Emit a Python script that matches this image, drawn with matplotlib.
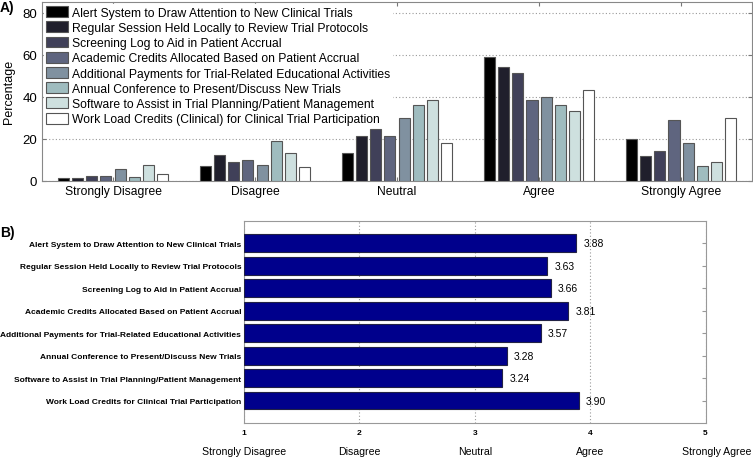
import numpy as np
import matplotlib
matplotlib.use('Agg')
import matplotlib.pyplot as plt

plt.rcParams['font.family'] = ['Liberation Sans', 'DejaVu Sans']

# responses (x groups)
responses = ['Strongly Disagree', 'Disagree', 'Neutral', 'Agree', 'Strongly Agree']

# interventions, panel A legend
items_a = ['Alert System to Draw Attention to New Clinical Trials',
           'Regular Session Held Locally to Review Trial Protocols',
           'Screening Log to Aid in Patient Accrual',
           'Academic Credits Allocated Based on Patient Accrual',
           'Additional Payments for Trial-Related Educational Activities',
           'Annual Conference to Present/Discuss New Trials',
           'Software to Assist in Trial Planning/Patient Management',
           'Work Load Credits (Clinical) for Clinical Trial Participation']

# percentages per intervention, across responses
pct = [[1.3, 6.8, 13.3, 59.0, 20.0],
       [1.3, 12.1, 21.1, 54.0, 11.9],
       [2.1, 9.0, 24.3, 51.4, 14.0],
       [2.1, 10.0, 21.4, 38.4, 28.6],
       [5.5, 7.2, 30.0, 39.7, 18.1],
       [1.9, 19.0, 36.2, 35.9, 7.1],
       [7.2, 13.2, 38.4, 33.1, 8.9],
       [3.0, 6.6, 18.1, 43.0, 29.8]]

# panel B
items_b = ['Alert System to Draw Attention to New Clinical Trials',
           'Regular Session Held Locally to Review Trial Protocols',
           'Screening Log to Aid in Patient Accrual',
           'Academic Credits Allocated Based on Patient Accrual',
           'Additional Payments for Trial-Related Educational Activities',
           'Annual Conference to Present/Discuss New Trials',
           'Software to Assist in Trial Planning/Patient Management',
           'Work Load Credits for Clinical Trial Participation']
mean_score = [3.88, 3.63, 3.66, 3.81, 3.57, 3.28, 3.24, 3.90]
score_ticks = [1, 2, 3, 4, 5]

fig = plt.figure(figsize=(7.53, 4.60), dpi=100)

# ---- panel A ----
ax1 = fig.add_axes([0.0558, 0.6054, 0.943, 0.388])
colors = plt.cm.bone(np.linspace(0, 1, len(items_a)))
x = np.arange(1, len(responses) + 1)
step = 0.1
w = 0.078
for i, (name, vals) in enumerate(zip(items_a, pct)):
    off = (i - 3.5) * step
    ax1.bar(x + off, vals, w, color=colors[i], edgecolor='#555555',
            linewidth=0.8, label=name, zorder=3)

ax1.set_xlim(0.5, 5.5)
ax1.set_ylim(0, 85)
ax1.set_yticks([0, 20, 40, 60, 80])
ax1.set_xticks(x)
ax1.set_xticklabels(responses, fontsize=8.7)
ax1.tick_params(axis='y', labelsize=9.5, length=3, right=True, direction='in', color='#777777')
ax1.tick_params(axis='x', length=3, top=True, direction='in', color='#777777', pad=3)
ax1.set_ylabel('Percentage', fontsize=9, labelpad=5)
ax1.yaxis.grid(True, linestyle=(0, (1, 2)), color='#999999', linewidth=0.8, zorder=0)
for s in ax1.spines.values():
    s.set_color('#888888')

leg = ax1.legend(loc='upper left', fontsize=8.7, frameon=True, framealpha=1,
                 edgecolor='white', handlelength=1.8, handleheight=1.0,
                 handletextpad=0.3, labelspacing=0.22, borderaxespad=0.2,
                 borderpad=0.15)
leg.set_zorder(5)

fig.text(0.0, 0.983, 'A)', fontsize=10, fontweight='bold', va='center')

# ---- panel B ----
ax2 = fig.add_axes([0.324, 0.0783, 0.613, 0.4397])
pos = np.arange(1, len(items_b) + 1)
ax2.barh(pos, np.array(mean_score) - 1, left=1, height=0.8,
         color='#00008c', edgecolor='#222244', linewidth=0.8, zorder=3)
for p, v in zip(pos, mean_score):
    ax2.text(v + 0.06, p, '%.2f' % v, fontsize=7.5, va='center', ha='left')

ax2.set_xlim(1, 5)
ax2.set_ylim(9, 0)
ax2.set_xticks(score_ticks)
ax2.set_xticklabels([str(t) for t in score_ticks], fontsize=6, fontweight='bold')
ax2.set_yticks(pos)
ax2.set_yticklabels(items_b, fontsize=6, fontweight='bold')
ax2.tick_params(axis='y', left=False, right=True, direction='in', length=3,
                color='#999999', pad=2)
ax2.tick_params(axis='x', length=0, pad=4)
ax2.xaxis.grid(True, linestyle=(0, (1, 2)), color='#999999', linewidth=0.8, zorder=0)
for s in ax2.spines.values():
    s.set_color('#999999')

for t, lab in zip(score_ticks, responses):
    xx = t + 0.1 if t == 5 else t
    ax2.text(xx, -0.14, lab, transform=ax2.get_xaxis_transform(),
             fontsize=7.6, ha='center', va='center')

fig.text(0.0, 0.493, 'B)', fontsize=10, fontweight='bold', va='center')

fig.savefig('out.png', dpi=100)
